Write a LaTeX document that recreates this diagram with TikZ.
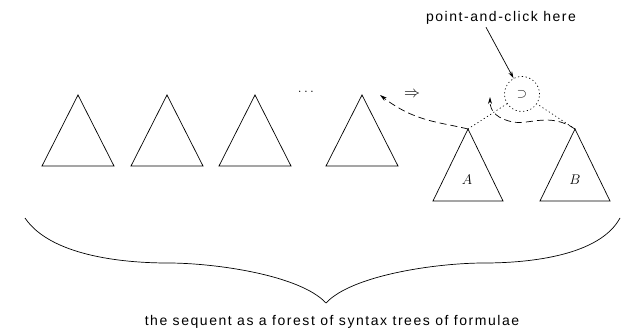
\RequirePackage{fix-cm}
\documentclass[tikz,border=0pt]{standalone}
\usepackage{fontspec}
\usetikzlibrary{arrows.meta, positioning, calc}
\newfontfamily\lblfont[LetterSpace=11]{Liberation Sans}

\begin{document}
\begin{tikzpicture}[
    x=1pt, y=-1pt,
    line width=0.7pt,
    lbl/.style={font=\lblfont\fontsize{14}{16}\selectfont, inner sep=0pt, anchor=base},
    arrow/.style={-{Stealth[length=7pt, width=4pt]}},
    dasharrow/.style={-{Stealth[length=7pt, width=4pt]}, dash pattern=on 7pt off 4pt},
    dotline/.style={dash pattern=on 0.8pt off 3pt, line cap=round},
]
\useasboundingbox (0,0) rectangle (622,329);
% forest on the left
\foreach \x/\n in {78/t1, 167/t2, 255/t3, 362/t4}
  \draw (\x,95) coordinate (\n) -- ++(-36,71) -- ++(72,0) -- cycle;
\node[font=\fontsize{14}{16}\selectfont] (dots) at (306,92) {$\ldots$};
\node[font=\fontsize{16}{18}\selectfont] (impl) at (412,95) {$\Rightarrow$};
% the two subtrees
\draw (468,129) coordinate (ta) -- ++(-35,72) -- ++(70,0) -- cycle;
\draw (575,129) coordinate (tb) -- ++(-35,72) -- ++(70,0) -- cycle;
\node[font=\fontsize{14}{16}\selectfont] (labA) at (467,180) {$A$};
\node[font=\fontsize{14}{16}\selectfont] (labB) at (575,180) {$B$};
% main connective
\node[circle, draw, dotline, minimum size=35pt, inner sep=0pt,
      font=\fontsize{13}{15}\selectfont] (conn) at (522,94) {$\supset$};
\draw[dotline] (ta) -- (conn);
\draw[dotline] (tb) -- (conn);
\node[lbl] (click) at (501,22) {point-and-click here};
\draw[arrow] ([xshift=-15pt, yshift=-2pt]click.south) -- (conn);
% subtrees moved into the forest
\coordinate (endA) at (380,95);
\coordinate (endB) at (490,97);
\draw[dasharrow] (ta) .. controls (440,122) and (415,122) .. (endA);
\draw[dasharrow] (tb) .. controls (550,112) and (530,125) .. (513,122)
    .. controls (498,119) and (490,112) .. (endB);
% brace
\draw (25,218) .. controls (50,255) and (120,263) .. (168,263)
    .. controls (215,263) and (300,275) .. (326,303)
    .. controls (352,275) and (437,263) .. (484,263)
    .. controls (532,263) and (600,255) .. (620,218);
\node[lbl] (forest) at (332,325) {the sequent as a forest of syntax trees of formulae};
\end{tikzpicture}
\end{document}
